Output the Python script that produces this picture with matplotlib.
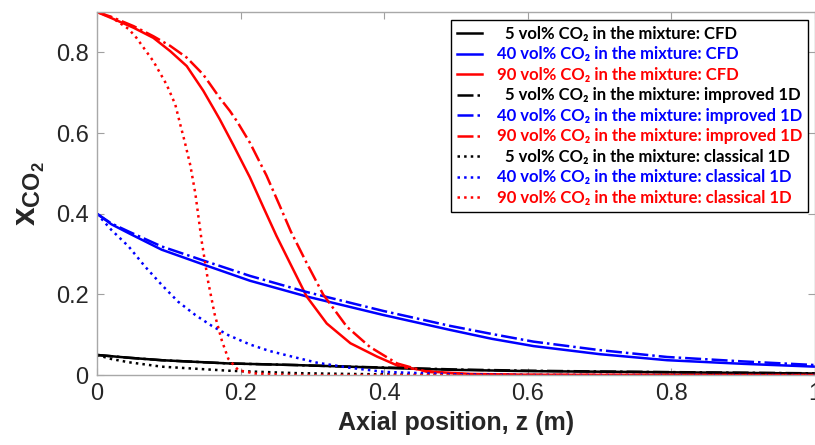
import matplotlib
matplotlib.use("Agg")
import matplotlib.pyplot as plt

# values (axial position z in m, CO2 mole fraction)
z_blk_cfd = [0, 0.045, 0.09, 0.183, 0.276, 0.35, 0.42, 0.5, 0.6, 0.7, 0.8, 0.9, 1.0]
x_blk_cfd = [0.05, 0.043, 0.037, 0.029, 0.025, 0.021, 0.017, 0.013, 0.010, 0.0085, 0.007, 0.0055, 0.004]
z_blk_imp = [0, 0.045, 0.09, 0.183, 0.276, 0.35, 0.42, 0.5, 0.6, 0.7, 0.8, 0.9, 1.0]
x_blk_imp = [0.05, 0.043, 0.037, 0.029, 0.025, 0.021, 0.018, 0.014, 0.011, 0.009, 0.0075, 0.006, 0.0045]
z_blk_cls = [0, 0.02, 0.044, 0.09, 0.183, 0.276, 0.35, 0.45, 0.6, 1.0]
x_blk_cls = [0.05, 0.04, 0.032, 0.021, 0.011, 0.005, 0.003, 0.001, 0.0, 0.0]

z_blu_cfd = [0, 0.02, 0.044, 0.09, 0.15, 0.213, 0.292, 0.399, 0.492, 0.55, 0.608, 0.7, 0.794, 0.9, 1.0]
x_blu_cfd = [0.4, 0.374, 0.352, 0.311, 0.273, 0.234, 0.195, 0.149, 0.112, 0.09, 0.072, 0.052, 0.037, 0.028, 0.021]
z_blu_imp = [0, 0.02, 0.044, 0.09, 0.15, 0.213, 0.292, 0.399, 0.492, 0.55, 0.608, 0.7, 0.794, 0.9, 1.0]
x_blu_imp = [0.4, 0.376, 0.356, 0.319, 0.283, 0.246, 0.206, 0.159, 0.122, 0.102, 0.083, 0.062, 0.045, 0.034, 0.025]
z_blu_cls = [0, 0.02, 0.044, 0.067, 0.09, 0.113, 0.137, 0.16, 0.183, 0.213, 0.24, 0.276, 0.306, 0.353, 0.4, 0.5, 0.6, 1.0]
x_blu_cls = [0.4, 0.36, 0.319, 0.269, 0.224, 0.182, 0.149, 0.122, 0.099, 0.076, 0.06, 0.044, 0.031, 0.018, 0.008, 0.002, 0.0, 0.0]

z_red_cfd = [0, 0.02, 0.051, 0.0785, 0.102, 0.125, 0.148, 0.162, 0.171, 0.19, 0.213, 0.232, 0.25, 0.269, 0.292,
             0.32, 0.353, 0.39, 0.422, 0.47, 0.52, 0.6, 1.0]
x_red_cfd = [0.9, 0.885, 0.861, 0.836, 0.803, 0.766, 0.705, 0.662, 0.634, 0.57, 0.49, 0.415, 0.345, 0.277, 0.195,
             0.128, 0.079, 0.046, 0.021, 0.008, 0.003, 0.001, 0.0]
z_red_imp = [0, 0.02, 0.051, 0.0785, 0.102, 0.125, 0.148, 0.171, 0.185, 0.195, 0.213, 0.236, 0.255, 0.27, 0.292,
             0.315, 0.348, 0.38, 0.418, 0.46, 0.52, 0.6, 1.0]
x_red_imp = [0.9, 0.888, 0.865, 0.84, 0.816, 0.787, 0.745, 0.687, 0.655, 0.629, 0.576, 0.495, 0.418, 0.356, 0.278,
             0.2, 0.12, 0.07, 0.029, 0.008, 0.002, 0.0005, 0.0]
z_red_cls = [0, 0.02, 0.044, 0.055, 0.0785, 0.097, 0.109, 0.116, 0.122, 0.13, 0.137, 0.146, 0.155, 0.164, 0.174,
             0.183, 0.197, 0.22, 0.26, 0.3, 1.0]
x_red_cls = [0.9, 0.887, 0.858, 0.836, 0.778, 0.72, 0.671, 0.621, 0.58, 0.52, 0.45, 0.33, 0.23, 0.15, 0.085,
             0.04, 0.012, 0.004, 0.001, 0.0, 0.0]

x_ticks = [0, 0.2, 0.4, 0.6, 0.8, 1]
y_ticks = [0, 0.2, 0.4, 0.6, 0.8]

plt.rcParams["mathtext.fontset"] = "custom"
plt.rcParams["mathtext.bf"] = "Liberation Sans:bold"
plt.rcParams["mathtext.rm"] = "Liberation Sans"

fig = plt.figure(figsize=(8.15, 4.45), dpi=100)
ax = fig.add_axes([0.119, 0.157, 0.881, 0.816])

lw = 1.8
series = [
    (z_blk_cfd, x_blk_cfd, "black", "-", "5 vol% CO\u2082 in the mixture: CFD"),
    (z_blu_cfd, x_blu_cfd, "blue", "-", "40 vol% CO\u2082 in the mixture: CFD"),
    (z_red_cfd, x_red_cfd, "red", "-", "90 vol% CO\u2082 in the mixture: CFD"),
    (z_blk_imp, x_blk_imp, "black", "-.", "5 vol% CO\u2082 in the mixture: improved 1D"),
    (z_blu_imp, x_blu_imp, "blue", "-.", "40 vol% CO\u2082 in the mixture: improved 1D"),
    (z_red_imp, x_red_imp, "red", "-.", "90 vol% CO\u2082 in the mixture: improved 1D"),
    (z_blk_cls, x_blk_cls, "black", ":", "5 vol% CO\u2082 in the mixture: classical 1D"),
    (z_blu_cls, x_blu_cls, "blue", ":", "40 vol% CO\u2082 in the mixture: classical 1D"),
    (z_red_cls, x_red_cls, "red", ":", "90 vol% CO\u2082 in the mixture: classical 1D"),
]
for z, x, c, ls, lab in series:
    if lab.startswith("5 "):
        lab = "  " + lab
    ax.plot(z, x, color=c, linestyle=ls, linewidth=lw, label=lab)

ax.set_xlim(0, 1)
ax.set_ylim(0, 0.9)
ax.set_xticks(x_ticks)
ax.set_xticklabels(["0", "0.2", "0.4", "0.6", "0.8", "1"])
ax.set_yticks(y_ticks)
ax.set_yticklabels(["0", "0.2", "0.4", "0.6", "0.8"])
ax.tick_params(direction="in", top=True, right=True, length=5, color="#a0a0a0",
               labelsize=17, labelcolor="#262626", pad=6)
for lbl in ax.get_xticklabels() + ax.get_yticklabels():
    lbl.set_family(["Liberation Sans Narrow", "Liberation Sans"])
for s in ax.spines.values():
    s.set_color("#a8a8a8")
    s.set_linewidth(1.0)

ax.set_xlabel("Axial position, z (m)", fontsize=18, fontweight="bold", color="#262626",
              family=["Liberation Sans Narrow", "Liberation Sans"], labelpad=4)
ax.set_ylabel(r"$\mathbf{x}_{\mathbf{CO_2}}$", fontsize=24, color="#262626", labelpad=6)

leg = ax.legend(loc="upper right", bbox_to_anchor=(0.99, 0.978), fancybox=False,
                edgecolor="black", framealpha=1, handlelength=1.5, handletextpad=0.9,
                borderpad=0.35, labelspacing=0.27, borderaxespad=0,
                prop={"family": ["Lato", "DejaVu Sans"], "weight": "bold", "size": 12})
leg.get_frame().set_linewidth(1.0)
for txt, (_, _, c, _, _) in zip(leg.get_texts(), series):
    txt.set_color(c)

fig.savefig("out.png", dpi=100)
